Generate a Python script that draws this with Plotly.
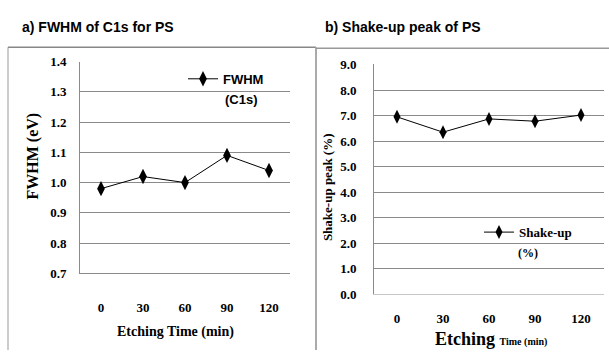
import plotly.graph_objects as go

# Etching series: C1s FWHM (eV) and shake-up satellite intensity (%) for PS
etch_time = ["0", "30", "60", "90", "120"]
fwhm_c1s = [0.98, 1.02, 1.00, 1.09, 1.04]
shake_up = [6.95, 6.35, 6.87, 6.78, 7.02]
fwhm_ticks = [0.7, 0.8, 0.9, 1.0, 1.1, 1.2, 1.3, 1.4]
shake_ticks = [0, 1, 2, 3, 4, 5, 6, 7, 8, 9]

W, H = 609, 358
SANS = "Liberation Sans, Arial"
SERIF = "Liberation Serif, Times New Roman, serif"
GRID = "#8a8a8a"


def fx(px):
    return px / W


def fy(py):
    return 1 - py / H


fig = go.Figure()
fig.add_trace(go.Scatter(
    x=etch_time, y=fwhm_c1s, name="FWHM", mode="lines+markers",
    xaxis="x", yaxis="y", legend="legend",
    line=dict(color="black", width=1),
    marker=dict(symbol="diamond-tall", size=11, color="black"),
))
fig.add_trace(go.Scatter(
    x=etch_time, y=shake_up, name="Shake-up", mode="lines+markers",
    xaxis="x2", yaxis="y2", legend="legend2",
    line=dict(color="black", width=1),
    marker=dict(symbol="diamond-tall", size=10, color="black"),
))

tick_font = dict(family=SERIF, size=13, color="black", weight="bold")

fig.update_layout(
    width=W, height=H,
    margin=dict(l=0, r=0, t=0, b=0),
    paper_bgcolor="white", plot_bgcolor="white",
    xaxis=dict(domain=[fx(80), fx(290)], anchor="y", type="category",
               range=[-0.5, 4.5], showgrid=False, showline=True,
               linecolor=GRID, linewidth=1, ticks="", tickfont=tick_font,
               ticklabelstandoff=22, fixedrange=True),
    yaxis=dict(domain=[fy(278), fy(57)], anchor="x", range=[0.7, 1.4],
               tickvals=fwhm_ticks, tickformat=".1f", showgrid=True,
               gridcolor=GRID, gridwidth=1, showline=True, linecolor=GRID,
               zeroline=False, ticks="", tickfont=tick_font,
               ticklabelstandoff=10),
    xaxis2=dict(domain=[fx(374), fx(604)], anchor="y2", type="category",
                range=[-0.5, 4.5], showgrid=False, showline=True,
                linecolor="#c8c8c8", linewidth=1, ticks="", tickfont=tick_font,
                ticklabelstandoff=12),
    yaxis2=dict(domain=[fy(300), fy(60)], anchor="x2", range=[0, 9],
                tickvals=shake_ticks, tickformat=".1f", showgrid=True,
                gridcolor=GRID, gridwidth=1, showline=True, linecolor=GRID,
                zeroline=False, ticks="", tickfont=tick_font,
                ticklabelstandoff=14),
    legend=dict(x=fx(183), y=fy(75), xanchor="left", yanchor="middle",
                bgcolor="rgba(0,0,0,0)", itemwidth=30,
                font=dict(family=SANS, size=13, color="black", weight="bold")),
    legend2=dict(x=fx(479), y=fy(235), xanchor="left", yanchor="middle",
                 bgcolor="rgba(0,0,0,0)", itemwidth=30,
                 font=dict(family=SERIF, size=13, color="black", weight="bold")),
    showlegend=True,
)

# Panel frames
frame = dict(type="line", xref="paper", yref="paper", layer="below")
fig.add_shape(**frame, x0=fx(8), y0=fy(358), x1=fx(8), y1=fy(42),
              line=dict(color="#999999", width=1))
fig.add_shape(**frame, x0=fx(8), y0=fy(42), x1=fx(316), y1=fy(42),
              line=dict(color="#888888", width=1.5))
fig.add_shape(**frame, x0=fx(316), y0=fy(42), x1=fx(316), y1=fy(358),
              line=dict(color="#aaaaaa", width=2))
fig.add_shape(**frame, x0=fx(316), y0=fy(43), x1=fx(609), y1=fy(43),
              line=dict(color="#999999", width=1.5))


def note(text, x, y, font, xanchor="center", yanchor="middle", angle=0):
    fig.add_annotation(text=text, x=fx(x), y=fy(y), xref="paper", yref="paper",
                       xanchor=xanchor, yanchor=yanchor, showarrow=False,
                       textangle=angle, font=font)


title_font = dict(family=SANS, size=14, color="black", weight="bold")
note("a) FWHM of C1s for PS", 20, 21, title_font, xanchor="left")
note("b) Shake-up peak of PS", 323, 21, title_font, xanchor="left")

note("(C1s)", 223, 97, dict(family=SANS, size=13, color="black", weight="bold"),
     xanchor="left")
note("(%)", 528, 257, dict(family=SERIF, size=12, color="black", weight="bold"))

note("Etching Time (min)", 175, 339,
     dict(family=SERIF, size=14, color="black", weight="bold"))
note("FWHM (eV)", 33, 156,
     dict(family=SERIF, size=16, color="black", weight="bold"), angle=-90)
note("Etching <span style='font-size:10px'>Time (min)</span>", 433, 347,
     dict(family=SERIF, size=18, color="black", weight="bold"), xanchor="left")
note("Shake-up peak (%)", 327, 188,
     dict(family=SERIF, size=13, color="black", weight="bold"), angle=-90)

fig.write_html("out.html", config={"displayModeBar": False})
